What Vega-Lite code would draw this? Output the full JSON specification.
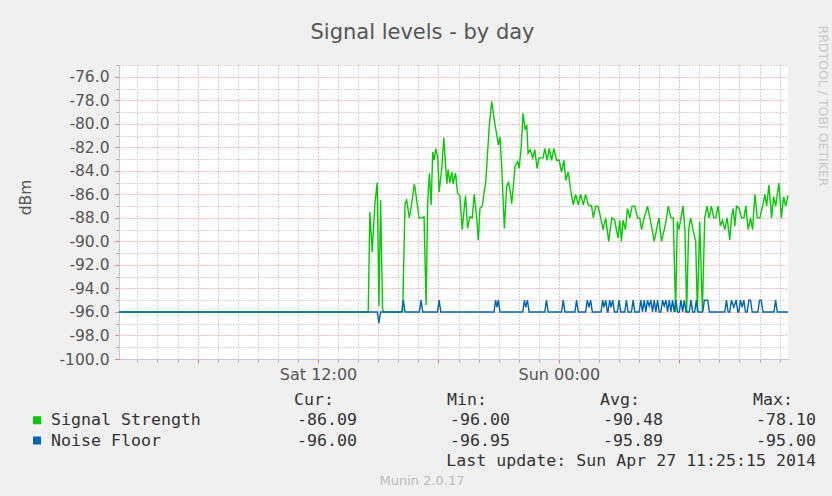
{
  "$schema": "https://vega.github.io/schema/vega-lite/v6.json",
  "width": 669,
  "height": 294,
  "autosize": {"type": "none"},
  "padding": {"left": 119, "top": 65, "right": 44, "bottom": 137},
  "background": "#f0f0f0",
  "title": {"text": "Signal levels - by day", "font": "DejaVu Sans", "fontSize": 21, "fontWeight": "normal", "color": "#555555", "anchor": "middle", "frame": "group", "dx": -31, "dy": 22},
  "config": {"view": {"fill": "#ffffff", "stroke": null}},
  "datasets": {
    "signal": [
      {"t": "2014-04-26T02:05Z", "v": -96}, {"t": "2014-04-26T14:30Z", "v": -96}, {"t": "2014-04-26T14:35Z", "v": -87.5}, {"t": "2014-04-26T14:42Z", "v": -90.9},
      {"t": "2014-04-26T14:50Z", "v": -86.8}, {"t": "2014-04-26T14:57Z", "v": -85.0}, {"t": "2014-04-26T15:02Z", "v": -95.5}, {"t": "2014-04-26T15:07Z", "v": -86.5},
      {"t": "2014-04-26T15:13Z", "v": -95.8}, {"t": "2014-04-26T15:17Z", "v": -96}, {"t": "2014-04-26T16:13Z", "v": -96}, {"t": "2014-04-26T16:20Z", "v": -86.8},
      {"t": "2014-04-26T16:25Z", "v": -86.5}, {"t": "2014-04-26T16:33Z", "v": -88.0}, {"t": "2014-04-26T16:40Z", "v": -86.8}, {"t": "2014-04-26T16:48Z", "v": -85.1},
      {"t": "2014-04-26T16:55Z", "v": -86.5}, {"t": "2014-04-26T17:02Z", "v": -88.0}, {"t": "2014-04-26T17:12Z", "v": -88.0}, {"t": "2014-04-26T17:17Z", "v": -87.9},
      {"t": "2014-04-26T17:23Z", "v": -95.4}, {"t": "2014-04-26T17:28Z", "v": -86.5}, {"t": "2014-04-26T17:33Z", "v": -84.2}, {"t": "2014-04-26T17:38Z", "v": -86.9},
      {"t": "2014-04-26T17:43Z", "v": -82.4}, {"t": "2014-04-26T17:47Z", "v": -83.1}, {"t": "2014-04-26T17:52Z", "v": -82.1}, {"t": "2014-04-26T17:58Z", "v": -82.9},
      {"t": "2014-04-26T18:02Z", "v": -85.8}, {"t": "2014-04-26T18:10Z", "v": -83.8}, {"t": "2014-04-26T18:16Z", "v": -81.2}, {"t": "2014-04-26T18:25Z", "v": -85.1},
      {"t": "2014-04-26T18:29Z", "v": -83.9}, {"t": "2014-04-26T18:34Z", "v": -85.0}, {"t": "2014-04-26T18:40Z", "v": -84.1}, {"t": "2014-04-26T18:44Z", "v": -85.1},
      {"t": "2014-04-26T18:51Z", "v": -84.2}, {"t": "2014-04-26T18:57Z", "v": -85.9}, {"t": "2014-04-26T19:04Z", "v": -86.1}, {"t": "2014-04-26T19:11Z", "v": -89.0},
      {"t": "2014-04-26T19:17Z", "v": -87.2}, {"t": "2014-04-26T19:21Z", "v": -86.1}, {"t": "2014-04-26T19:27Z", "v": -88.9}, {"t": "2014-04-26T19:34Z", "v": -87.9},
      {"t": "2014-04-26T19:41Z", "v": -88.0}, {"t": "2014-04-26T19:47Z", "v": -86.0}, {"t": "2014-04-26T19:54Z", "v": -87.9}, {"t": "2014-04-26T19:59Z", "v": -89.9},
      {"t": "2014-04-26T20:04Z", "v": -87.2}, {"t": "2014-04-26T20:11Z", "v": -87.0}, {"t": "2014-04-26T20:17Z", "v": -85.7}, {"t": "2014-04-26T20:21Z", "v": -85.1},
      {"t": "2014-04-26T20:27Z", "v": -82.4}, {"t": "2014-04-26T20:32Z", "v": -80.2}, {"t": "2014-04-26T20:39Z", "v": -78.1}, {"t": "2014-04-26T20:47Z", "v": -79.7},
      {"t": "2014-04-26T20:54Z", "v": -80.9}, {"t": "2014-04-26T20:59Z", "v": -81.8}, {"t": "2014-04-26T21:04Z", "v": -81.1}, {"t": "2014-04-26T21:09Z", "v": -83.6},
      {"t": "2014-04-26T21:17Z", "v": -88.9}, {"t": "2014-04-26T21:24Z", "v": -85.3}, {"t": "2014-04-26T21:29Z", "v": -85.0}, {"t": "2014-04-26T21:34Z", "v": -85.6},
      {"t": "2014-04-26T21:39Z", "v": -86.8}, {"t": "2014-04-26T21:44Z", "v": -85.3}, {"t": "2014-04-26T21:49Z", "v": -83.6}, {"t": "2014-04-26T21:57Z", "v": -83.2},
      {"t": "2014-04-26T22:01Z", "v": -83.8}, {"t": "2014-04-26T22:07Z", "v": -82.1}, {"t": "2014-04-26T22:13Z", "v": -79.1}, {"t": "2014-04-26T22:19Z", "v": -80.5},
      {"t": "2014-04-26T22:24Z", "v": -80.1}, {"t": "2014-04-26T22:28Z", "v": -82.5}, {"t": "2014-04-26T22:34Z", "v": -82.2}, {"t": "2014-04-26T22:42Z", "v": -82.9},
      {"t": "2014-04-26T22:48Z", "v": -82.2}, {"t": "2014-04-26T22:55Z", "v": -83.8}, {"t": "2014-04-26T23:01Z", "v": -82.9}, {"t": "2014-04-26T23:07Z", "v": -82.9},
      {"t": "2014-04-26T23:13Z", "v": -82.9}, {"t": "2014-04-26T23:18Z", "v": -82.1}, {"t": "2014-04-26T23:25Z", "v": -83.1}, {"t": "2014-04-26T23:31Z", "v": -82.1},
      {"t": "2014-04-26T23:38Z", "v": -83.1}, {"t": "2014-04-26T23:45Z", "v": -82.1}, {"t": "2014-04-26T23:53Z", "v": -83.1},
      {"t": "2014-04-27T00:01Z", "v": -83.1}, {"t": "2014-04-27T00:08Z", "v": -84.1}, {"t": "2014-04-27T00:15Z", "v": -83.1}, {"t": "2014-04-27T00:21Z", "v": -84.8},
      {"t": "2014-04-27T00:28Z", "v": -84.1}, {"t": "2014-04-27T00:35Z", "v": -85.6}, {"t": "2014-04-27T00:43Z", "v": -86.9}, {"t": "2014-04-27T00:50Z", "v": -86.0},
      {"t": "2014-04-27T00:58Z", "v": -86.9}, {"t": "2014-04-27T01:05Z", "v": -86.0}, {"t": "2014-04-27T01:13Z", "v": -86.9}, {"t": "2014-04-27T01:20Z", "v": -86.0},
      {"t": "2014-04-27T01:28Z", "v": -86.9}, {"t": "2014-04-27T01:38Z", "v": -87.0}, {"t": "2014-04-27T01:43Z", "v": -88.0}, {"t": "2014-04-27T01:50Z", "v": -87.0},
      {"t": "2014-04-27T01:57Z", "v": -87.0}, {"t": "2014-04-27T02:05Z", "v": -88.0}, {"t": "2014-04-27T02:12Z", "v": -89.0}, {"t": "2014-04-27T02:20Z", "v": -88.0},
      {"t": "2014-04-27T02:29Z", "v": -90.0}, {"t": "2014-04-27T02:38Z", "v": -88.0}, {"t": "2014-04-27T02:47Z", "v": -88.2}, {"t": "2014-04-27T02:52Z", "v": -89.0},
      {"t": "2014-04-27T02:57Z", "v": -89.7}, {"t": "2014-04-27T03:02Z", "v": -88.2}, {"t": "2014-04-27T03:07Z", "v": -90.0}, {"t": "2014-04-27T03:12Z", "v": -88.2},
      {"t": "2014-04-27T03:19Z", "v": -89.0}, {"t": "2014-04-27T03:25Z", "v": -87.2}, {"t": "2014-04-27T03:32Z", "v": -88.0}, {"t": "2014-04-27T03:39Z", "v": -87.0},
      {"t": "2014-04-27T03:47Z", "v": -87.0}, {"t": "2014-04-27T03:55Z", "v": -88.0}, {"t": "2014-04-27T04:02Z", "v": -88.0}, {"t": "2014-04-27T04:07Z", "v": -89.0},
      {"t": "2014-04-27T04:15Z", "v": -88.0}, {"t": "2014-04-27T04:25Z", "v": -87.0}, {"t": "2014-04-27T04:32Z", "v": -88.0}, {"t": "2014-04-27T04:39Z", "v": -89.0},
      {"t": "2014-04-27T04:45Z", "v": -90.0}, {"t": "2014-04-27T04:52Z", "v": -89.0}, {"t": "2014-04-27T04:59Z", "v": -88.0}, {"t": "2014-04-27T05:07Z", "v": -90.0},
      {"t": "2014-04-27T05:15Z", "v": -89.0}, {"t": "2014-04-27T05:22Z", "v": -88.0}, {"t": "2014-04-27T05:27Z", "v": -87.0}, {"t": "2014-04-27T05:35Z", "v": -88.0},
      {"t": "2014-04-27T05:42Z", "v": -88.0}, {"t": "2014-04-27T05:49Z", "v": -96.0}, {"t": "2014-04-27T05:54Z", "v": -88.3}, {"t": "2014-04-27T05:59Z", "v": -89.0},
      {"t": "2014-04-27T06:05Z", "v": -88.0}, {"t": "2014-04-27T06:11Z", "v": -87.0}, {"t": "2014-04-27T06:17Z", "v": -89.0}, {"t": "2014-04-27T06:22Z", "v": -96.0},
      {"t": "2014-04-27T06:28Z", "v": -89.0}, {"t": "2014-04-27T06:34Z", "v": -88.0}, {"t": "2014-04-27T06:41Z", "v": -89.0}, {"t": "2014-04-27T06:49Z", "v": -90.0},
      {"t": "2014-04-27T06:54Z", "v": -96.0}, {"t": "2014-04-27T07:01Z", "v": -88.3}, {"t": "2014-04-27T07:09Z", "v": -96.0}, {"t": "2014-04-27T07:16Z", "v": -88.0},
      {"t": "2014-04-27T07:23Z", "v": -87.0}, {"t": "2014-04-27T07:29Z", "v": -88.0}, {"t": "2014-04-27T07:36Z", "v": -87.0}, {"t": "2014-04-27T07:43Z", "v": -88.0},
      {"t": "2014-04-27T07:49Z", "v": -88.0}, {"t": "2014-04-27T07:56Z", "v": -87.0}, {"t": "2014-04-27T08:03Z", "v": -88.7}, {"t": "2014-04-27T08:09Z", "v": -88.2},
      {"t": "2014-04-27T08:16Z", "v": -89.0}, {"t": "2014-04-27T08:23Z", "v": -88.0}, {"t": "2014-04-27T08:31Z", "v": -89.9}, {"t": "2014-04-27T08:36Z", "v": -88.0},
      {"t": "2014-04-27T08:41Z", "v": -87.2}, {"t": "2014-04-27T08:46Z", "v": -88.7}, {"t": "2014-04-27T08:51Z", "v": -87.0}, {"t": "2014-04-27T08:59Z", "v": -87.2},
      {"t": "2014-04-27T09:06Z", "v": -88.0}, {"t": "2014-04-27T09:13Z", "v": -88.0}, {"t": "2014-04-27T09:19Z", "v": -87.0}, {"t": "2014-04-27T09:26Z", "v": -89.0},
      {"t": "2014-04-27T09:33Z", "v": -88.0}, {"t": "2014-04-27T09:39Z", "v": -89.0}, {"t": "2014-04-27T09:46Z", "v": -86.0}, {"t": "2014-04-27T09:53Z", "v": -88.0},
      {"t": "2014-04-27T10:01Z", "v": -88.0}, {"t": "2014-04-27T10:09Z", "v": -87.0}, {"t": "2014-04-27T10:16Z", "v": -86.0}, {"t": "2014-04-27T10:21Z", "v": -87.0},
      {"t": "2014-04-27T10:28Z", "v": -85.2}, {"t": "2014-04-27T10:36Z", "v": -88.0}, {"t": "2014-04-27T10:42Z", "v": -86.2}, {"t": "2014-04-27T10:48Z", "v": -87.0},
      {"t": "2014-04-27T10:58Z", "v": -85.05}, {"t": "2014-04-27T11:05Z", "v": -88.0}, {"t": "2014-04-27T11:12Z", "v": -86.2}, {"t": "2014-04-27T11:18Z", "v": -87.0},
      {"t": "2014-04-27T11:25Z", "v": -86.09}
    ],
    "noise": [
      {"t": "2014-04-26T02:05Z", "v": -96}, {"t": "2014-04-26T14:57Z", "v": -96}, {"t": "2014-04-26T15:02Z", "v": -96.95}, {"t": "2014-04-26T15:07Z", "v": -96},
      {"t": "2014-04-26T16:10Z", "v": -96}, {"t": "2014-04-26T16:15Z", "v": -95}, {"t": "2014-04-26T16:20Z", "v": -96},
      {"t": "2014-04-26T17:03Z", "v": -96}, {"t": "2014-04-26T17:08Z", "v": -95}, {"t": "2014-04-26T17:13Z", "v": -96},
      {"t": "2014-04-26T17:57Z", "v": -96}, {"t": "2014-04-26T18:02Z", "v": -95}, {"t": "2014-04-26T18:07Z", "v": -96},
      {"t": "2014-04-26T20:46Z", "v": -96}, {"t": "2014-04-26T20:51Z", "v": -95}, {"t": "2014-04-26T20:55Z", "v": -95.6}, {"t": "2014-04-26T20:59Z", "v": -95}, {"t": "2014-04-26T21:04Z", "v": -96},
      {"t": "2014-04-26T22:12Z", "v": -96}, {"t": "2014-04-26T22:17Z", "v": -95}, {"t": "2014-04-26T22:21Z", "v": -95.6}, {"t": "2014-04-26T22:26Z", "v": -95}, {"t": "2014-04-26T22:31Z", "v": -96},
      {"t": "2014-04-26T23:18Z", "v": -96}, {"t": "2014-04-26T23:23Z", "v": -95}, {"t": "2014-04-26T23:28Z", "v": -96},
      {"t": "2014-04-27T00:08Z", "v": -96}, {"t": "2014-04-27T00:13Z", "v": -95}, {"t": "2014-04-27T00:18Z", "v": -96},
      {"t": "2014-04-27T00:48Z", "v": -96}, {"t": "2014-04-27T00:53Z", "v": -95}, {"t": "2014-04-27T00:58Z", "v": -96},
      {"t": "2014-04-27T01:20Z", "v": -96}, {"t": "2014-04-27T01:25Z", "v": -95}, {"t": "2014-04-27T01:30Z", "v": -95.6}, {"t": "2014-04-27T01:35Z", "v": -95}, {"t": "2014-04-27T01:40Z", "v": -96},
      {"t": "2014-04-27T02:06Z", "v": -96}, {"t": "2014-04-27T02:11Z", "v": -95}, {"t": "2014-04-27T02:15Z", "v": -95.6}, {"t": "2014-04-27T02:20Z", "v": -95}, {"t": "2014-04-27T02:25Z", "v": -96},
      {"t": "2014-04-27T02:27Z", "v": -96}, {"t": "2014-04-27T02:32Z", "v": -95}, {"t": "2014-04-27T02:36Z", "v": -95.6}, {"t": "2014-04-27T02:41Z", "v": -95}, {"t": "2014-04-27T02:46Z", "v": -96},
      {"t": "2014-04-27T02:55Z", "v": -96}, {"t": "2014-04-27T03:00Z", "v": -95}, {"t": "2014-04-27T03:05Z", "v": -96},
      {"t": "2014-04-27T03:17Z", "v": -96}, {"t": "2014-04-27T03:22Z", "v": -95}, {"t": "2014-04-27T03:27Z", "v": -96},
      {"t": "2014-04-27T03:37Z", "v": -96}, {"t": "2014-04-27T03:42Z", "v": -95}, {"t": "2014-04-27T03:47Z", "v": -96},
      {"t": "2014-04-27T04:00Z", "v": -96}, {"t": "2014-04-27T04:05Z", "v": -95}, {"t": "2014-04-27T04:10Z", "v": -96}, {"t": "2014-04-27T04:15Z", "v": -95},
      {"t": "2014-04-27T04:20Z", "v": -96}, {"t": "2014-04-27T04:25Z", "v": -95}, {"t": "2014-04-27T04:30Z", "v": -95.5}, {"t": "2014-04-27T04:35Z", "v": -95},
      {"t": "2014-04-27T04:40Z", "v": -96}, {"t": "2014-04-27T04:45Z", "v": -95}, {"t": "2014-04-27T04:50Z", "v": -96}, {"t": "2014-04-27T04:55Z", "v": -95},
      {"t": "2014-04-27T05:00Z", "v": -96}, {"t": "2014-04-27T05:05Z", "v": -96}, {"t": "2014-04-27T05:10Z", "v": -95}, {"t": "2014-04-27T05:15Z", "v": -95.5},
      {"t": "2014-04-27T05:20Z", "v": -95}, {"t": "2014-04-27T05:25Z", "v": -96}, {"t": "2014-04-27T05:30Z", "v": -95}, {"t": "2014-04-27T05:35Z", "v": -96},
      {"t": "2014-04-27T05:40Z", "v": -95}, {"t": "2014-04-27T05:45Z", "v": -96}, {"t": "2014-04-27T05:50Z", "v": -95}, {"t": "2014-04-27T05:55Z", "v": -96},
      {"t": "2014-04-27T06:00Z", "v": -96}, {"t": "2014-04-27T06:05Z", "v": -95}, {"t": "2014-04-27T06:10Z", "v": -96}, {"t": "2014-04-27T06:15Z", "v": -95},
      {"t": "2014-04-27T06:20Z", "v": -96}, {"t": "2014-04-27T06:30Z", "v": -96}, {"t": "2014-04-27T06:35Z", "v": -95}, {"t": "2014-04-27T06:40Z", "v": -96},
      {"t": "2014-04-27T06:46Z", "v": -96}, {"t": "2014-04-27T06:51Z", "v": -95}, {"t": "2014-04-27T06:56Z", "v": -96},
      {"t": "2014-04-27T07:10Z", "v": -96}, {"t": "2014-04-27T07:15Z", "v": -95}, {"t": "2014-04-27T07:25Z", "v": -95}, {"t": "2014-04-27T07:30Z", "v": -96},
      {"t": "2014-04-27T08:16Z", "v": -96}, {"t": "2014-04-27T08:21Z", "v": -95}, {"t": "2014-04-27T08:26Z", "v": -96},
      {"t": "2014-04-27T08:31Z", "v": -96}, {"t": "2014-04-27T08:36Z", "v": -95}, {"t": "2014-04-27T08:43Z", "v": -95.6}, {"t": "2014-04-27T08:50Z", "v": -95}, {"t": "2014-04-27T08:55Z", "v": -96},
      {"t": "2014-04-27T08:58Z", "v": -96}, {"t": "2014-04-27T09:03Z", "v": -95}, {"t": "2014-04-27T09:08Z", "v": -95.6}, {"t": "2014-04-27T09:13Z", "v": -95}, {"t": "2014-04-27T09:18Z", "v": -96},
      {"t": "2014-04-27T09:23Z", "v": -96}, {"t": "2014-04-27T09:28Z", "v": -95}, {"t": "2014-04-27T09:33Z", "v": -95}, {"t": "2014-04-27T09:38Z", "v": -96},
      {"t": "2014-04-27T09:55Z", "v": -96}, {"t": "2014-04-27T10:00Z", "v": -95}, {"t": "2014-04-27T10:05Z", "v": -95}, {"t": "2014-04-27T10:10Z", "v": -96},
      {"t": "2014-04-27T10:43Z", "v": -96}, {"t": "2014-04-27T10:48Z", "v": -95}, {"t": "2014-04-27T10:53Z", "v": -96},
      {"t": "2014-04-27T11:25Z", "v": -96}
    ]
  },
  "layer": [
    {
      "layer": [
        {
          "data": {"name": "signal"},
          "mark": {"type": "line", "color": "#00cc00", "strokeWidth": 1.4},
          "encoding": {
            "x": {"field": "t", "type": "temporal",
              "scale": {"type": "utc", "domain": [{"year": 2014, "month": 4, "date": 26, "hours": 2, "minutes": 5, "utc": true}, {"year": 2014, "month": 4, "date": 27, "hours": 11, "minutes": 25, "utc": true}]},
              "axis": {"orient": "bottom",
                "values": [
                  {"year": 2014, "month": 4, "date": 26, "hours": 3, "utc": true}, {"year": 2014, "month": 4, "date": 26, "hours": 4, "utc": true}, {"year": 2014, "month": 4, "date": 26, "hours": 5, "utc": true},
                  {"year": 2014, "month": 4, "date": 26, "hours": 7, "utc": true}, {"year": 2014, "month": 4, "date": 26, "hours": 8, "utc": true}, {"year": 2014, "month": 4, "date": 26, "hours": 9, "utc": true},
                  {"year": 2014, "month": 4, "date": 26, "hours": 10, "utc": true}, {"year": 2014, "month": 4, "date": 26, "hours": 11, "utc": true}, {"year": 2014, "month": 4, "date": 26, "hours": 13, "utc": true},
                  {"year": 2014, "month": 4, "date": 26, "hours": 14, "utc": true}, {"year": 2014, "month": 4, "date": 26, "hours": 15, "utc": true}, {"year": 2014, "month": 4, "date": 26, "hours": 16, "utc": true},
                  {"year": 2014, "month": 4, "date": 26, "hours": 17, "utc": true}, {"year": 2014, "month": 4, "date": 26, "hours": 19, "utc": true}, {"year": 2014, "month": 4, "date": 26, "hours": 20, "utc": true},
                  {"year": 2014, "month": 4, "date": 26, "hours": 21, "utc": true}, {"year": 2014, "month": 4, "date": 26, "hours": 22, "utc": true}, {"year": 2014, "month": 4, "date": 26, "hours": 23, "utc": true},
                  {"year": 2014, "month": 4, "date": 27, "hours": 1, "utc": true}, {"year": 2014, "month": 4, "date": 27, "hours": 2, "utc": true}, {"year": 2014, "month": 4, "date": 27, "hours": 3, "utc": true},
                  {"year": 2014, "month": 4, "date": 27, "hours": 4, "utc": true}, {"year": 2014, "month": 4, "date": 27, "hours": 5, "utc": true}, {"year": 2014, "month": 4, "date": 27, "hours": 7, "utc": true},
                  {"year": 2014, "month": 4, "date": 27, "hours": 8, "utc": true}, {"year": 2014, "month": 4, "date": 27, "hours": 9, "utc": true}, {"year": 2014, "month": 4, "date": 27, "hours": 10, "utc": true},
                  {"year": 2014, "month": 4, "date": 27, "hours": 11, "utc": true}
                ],
                "grid": true, "gridColor": "#a8a8a8", "gridDash": [1, 2], "labels": false, "ticks": true, "tickSize": 3, "tickColor": "#a8a8a8", "domain": false, "title": null}},
            "y": {"field": "v", "type": "quantitative",
              "scale": {"domain": [-100, -75], "nice": false, "zero": false},
              "axis": {"orient": "left", "values": [-99, -97, -95, -93, -91, -89, -87, -85, -83, -81, -79, -77, -75], "grid": true, "gridColor": "#a8a8a8", "gridDash": [1, 2], "labels": false, "ticks": true, "tickSize": 3, "tickColor": "#a8a8a8", "domain": false, "title": null}}
          }
        },
        {
          "data": {"name": "noise"},
          "mark": {"type": "line", "color": "#0066b3", "strokeWidth": 1.4},
          "encoding": {
            "x": {"field": "t", "type": "temporal",
              "scale": {"type": "utc", "domain": [{"year": 2014, "month": 4, "date": 26, "hours": 2, "minutes": 5, "utc": true}, {"year": 2014, "month": 4, "date": 27, "hours": 11, "minutes": 25, "utc": true}]},
              "axis": {"orient": "bottom",
                "values": [{"year": 2014, "month": 4, "date": 26, "hours": 6, "utc": true}, {"year": 2014, "month": 4, "date": 26, "hours": 12, "utc": true}, {"year": 2014, "month": 4, "date": 26, "hours": 18, "utc": true}, {"year": 2014, "month": 4, "date": 27, "hours": 0, "utc": true}, {"year": 2014, "month": 4, "date": 27, "hours": 6, "utc": true}],
                "labelExpr": "utchours(datum.value) % 12 == 0 ? utcFormat(datum.value, '%a %H:%M') : ''",
                "grid": true, "gridColor": "#ee7777", "gridDash": [1, 2], "ticks": true, "tickSize": 4, "tickColor": "#ee7777",
                "domain": true, "domainColor": "#c4c4ee", "labelFont": "DejaVu Sans", "labelFontSize": 16, "labelColor": "#555555", "labelPadding": 3, "labelFlush": false, "labelOverlap": false, "title": null}},
            "y": {"field": "v", "type": "quantitative",
              "scale": {"domain": [-100, -75], "nice": false, "zero": false},
              "axis": {"orient": "left", "values": [-100, -98, -96, -94, -92, -90, -88, -86, -84, -82, -80, -78, -76],
                "labelExpr": "datum.value + '.0'",
                "grid": true, "gridColor": "#ee7777", "gridDash": [1, 2], "ticks": true, "tickSize": 4, "tickColor": "#ee7777",
                "domain": true, "domainColor": "#c4c4ee", "labelFont": "DejaVu Sans", "labelFontSize": 15.5, "labelColor": "#555555", "labelPadding": 6,
                "title": "dBm", "titleFont": "DejaVu Sans", "titleFontSize": 15.5, "titleFontWeight": "normal", "titleColor": "#555555",
                "titleX": -94, "titleY": 132, "titleAlign": "center", "titleBaseline": "middle"}}
          }
        }
      ],
      "resolve": {"axis": {"x": "independent", "y": "independent"}}
    },
    {
      "encoding": {
        "x": {"field": "col", "type": "nominal", "scale": {"domain": ["name", "gap", "Cur", "Min", "Avg", "Max"], "range": [-68, 697], "padding": 0}, "axis": null},
        "y": {"field": "row", "type": "nominal", "scale": {"domain": ["header", "Signal Strength", "Noise Floor", "update", "footer"], "range": [335, 416], "padding": 0},
          "axis": {"orient": "right", "labels": false, "ticks": false, "domain": false, "grid": false, "title": "RRDTOOL / TOBI OETIKER", "titleAngle": 90, "titleX": 34, "titleY": -40, "titleAlign": "left", "titleBaseline": "middle", "titleFont": "DejaVu Sans", "titleFontSize": 12.5, "titleFontWeight": "normal", "titleColor": "#c8c8c8"}}
      },
      "layer": [
        {
          "data": {"values": [{"row": "Signal Strength", "col": "name"}, {"row": "Noise Floor", "col": "name"}]},
          "mark": {"type": "square", "size": 64, "filled": true, "opacity": 1, "xOffset": -14},
          "encoding": {"color": {"field": "row", "type": "nominal", "scale": {"domain": ["Signal Strength", "Noise Floor"], "range": ["#00cc00", "#0066b3"]}, "legend": null}}
        },
        {
          "data": {"values": [{"row": "Signal Strength", "col": "name", "text": "Signal Strength"}, {"row": "Noise Floor", "col": "name", "text": "Noise Floor"}]},
          "mark": {"type": "text", "align": "left", "baseline": "middle", "font": "DejaVu Sans Mono", "fontSize": 16.6, "color": "#333333"},
          "encoding": {"text": {"field": "text"}}
        },
        {
          "data": {"values": [
            {"row": "header", "col": "Cur", "text": "Cur:"}, {"row": "header", "col": "Min", "text": "Min:"}, {"row": "header", "col": "Avg", "text": "Avg:"}, {"row": "header", "col": "Max", "text": "Max:"}
          ]},
          "mark": {"type": "text", "align": "right", "baseline": "middle", "font": "DejaVu Sans Mono", "fontSize": 16.6, "color": "#333333", "dx": -23},
          "encoding": {"text": {"field": "text"}}
        },
        {
          "data": {"values": [
            {"row": "Signal Strength", "col": "Cur", "text": "-86.09"}, {"row": "Signal Strength", "col": "Min", "text": "-96.00"}, {"row": "Signal Strength", "col": "Avg", "text": "-90.48"}, {"row": "Signal Strength", "col": "Max", "text": "-78.10"},
            {"row": "Noise Floor", "col": "Cur", "text": "-96.00"}, {"row": "Noise Floor", "col": "Min", "text": "-96.95"}, {"row": "Noise Floor", "col": "Avg", "text": "-95.89"}, {"row": "Noise Floor", "col": "Max", "text": "-95.00"},
            {"row": "update", "col": "Max", "text": "Last update: Sun Apr 27 11:25:15 2014"}
          ]},
          "mark": {"type": "text", "align": "right", "baseline": "middle", "font": "DejaVu Sans Mono", "fontSize": 16.6, "color": "#333333"},
          "encoding": {"text": {"field": "text"}}
        },
        {
          "data": {"values": [{"row": "footer", "col": "Cur", "text": "Munin 2.0.17"}]},
          "mark": {"type": "text", "align": "center", "baseline": "middle", "font": "DejaVu Sans", "fontSize": 13, "color": "#bbbbbb", "dx": 65},
          "encoding": {"text": {"field": "text"}}
        }
      ]
    }
  ],
  "resolve": {"scale": {"x": "independent", "y": "independent"}, "axis": {"x": "independent", "y": "independent"}}
}
